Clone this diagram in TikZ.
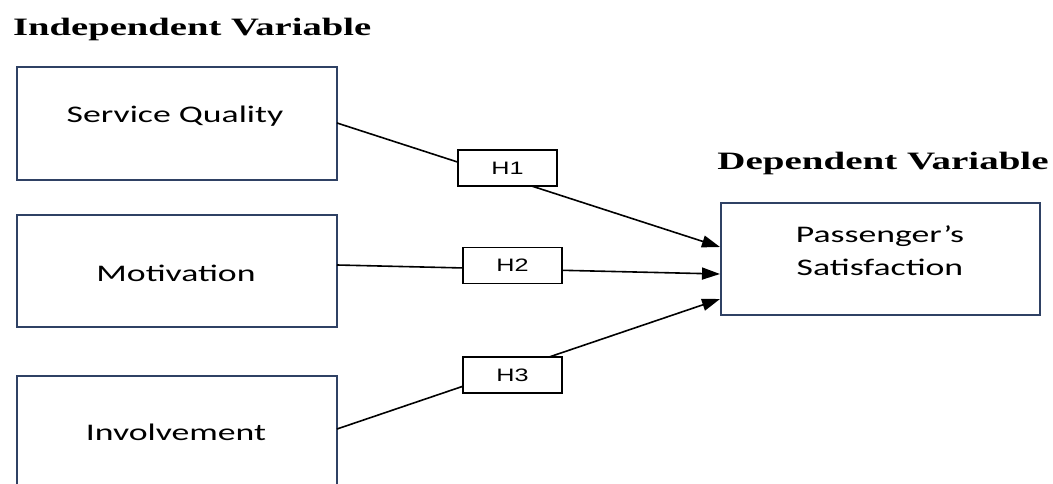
\documentclass[tikz,border=0pt]{standalone}
\usepackage{fontspec}
\usepackage{graphicx}
\setmainfont{Liberation Serif}
\newfontfamily\boxfont{Carlito}
\newfontfamily\hfont{Liberation Sans}
\usetikzlibrary{arrows.meta}
\definecolor{boxblue}{RGB}{47,65,100}
\newcommand{\sx}[2][1.5]{\scalebox{#1}[1]{#2}}
\tikzset{
  varbox/.style={draw=boxblue, line width=1.8pt, fill=white, inner sep=0pt},
  hbox/.style={draw=black, line width=1.6pt, fill=white, inner sep=0pt, minimum width=99pt, minimum height=36pt},
  boxtext/.style={anchor=base, inner sep=0pt, font=\boxfont\fontsize{23.8}{33}\selectfont},
  htext/.style={font=\hfont\fontsize{18}{20}\selectfont, inner sep=0pt},
  title/.style={anchor=base west, inner sep=0pt, font=\bfseries\fontsize{25}{28}\selectfont},
  conn/.style={line width=1.6pt, black},
  arr/.style={conn, -{Triangle[length=18pt, width=12pt]}}
}
\begin{document}
\begin{tikzpicture}[x=1pt,y=-1pt]
\clip (0,0) rectangle (1053,484);
\fill[white] (0,0) rectangle (1053,484);
% titles
\node[title] (t1) at (13,35.7) {\sx[1.545]{Independent Variable}};
\node[title, anchor=base] (t2) at (883,170) {\sx[1.56]{Dependent Variable}};
% boxes
\node[varbox, minimum width=320pt, minimum height=113pt] (sq) at (177,123.5) {};
\node[varbox, minimum width=320pt, minimum height=112pt] (mo) at (177,271) {};
\node[varbox, minimum width=320pt, minimum height=140pt] (in) at (177,446) {};
\node[varbox, minimum width=319pt, minimum height=112pt] (ps) at (880.5,259) {};
% box texts
\node[boxtext] (sqt) at (175,122.7) {\sx{Service Quality}};
\node[boxtext] (mot) at (176,281.7) {\sx{Motivation}};
\node[boxtext] (int) at (176,440.7) {\sx{Involvement}};
\node[boxtext] (pst1) at (880,242) {\sx{Passenger’s}};
\node[boxtext] (pst2) at (880,275) {\sx{Satisfaction}};
% anchor points
\coordinate (s1) at (337,123);
\coordinate (e1) at (720,247);
\coordinate (s2) at (337,265);
\coordinate (e2) at (720,274);
\coordinate (s3) at (337,429);
\coordinate (e3) at (720,299);
% connectors
\draw[arr] (s1) -- (e1);
\draw[arr] (s2) -- (e2);
\draw[arr] (s3) -- (e3);
% hypothesis boxes
\node[hbox] (h1) at (507.5,168) {};
\node[htext] (h1t) at (h1) {\sx[1.4]{H1}};
\node[hbox] (h2) at (512.5,265.5) {};
\node[htext] (h2t) at (h2) {\sx[1.4]{H2}};
\node[hbox] (h3) at (512.5,375) {};
\node[htext] (h3t) at (h3) {\sx[1.4]{H3}};
\end{tikzpicture}
\end{document}
